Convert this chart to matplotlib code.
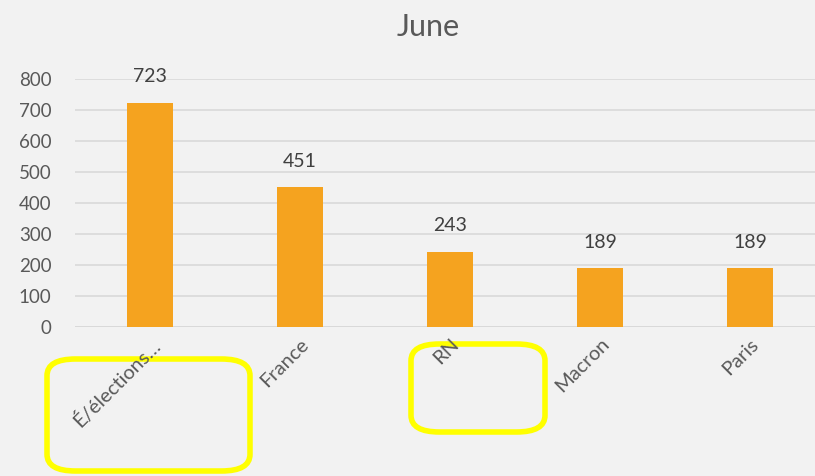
import matplotlib
matplotlib.use("Agg")
import matplotlib.pyplot as plt
from matplotlib.patches import FancyBboxPatch

categories = ["É/élections…", "France", "RN", "Macron", "Paris"]
values = [723, 451, 243, 189, 189]
yticks = [0, 100, 200, 300, 400, 500, 600, 700, 800]
title = "June"

plt.rcParams['font.family'] = ['Lato', 'DejaVu Sans']
W, H = 815, 476
fig = plt.figure(figsize=(W/100, H/100), dpi=100, facecolor='#f2f2f2')
ax = fig.add_axes([75/W, 1-327/H, 740/W, (327-79)/H])
ax.set_facecolor('#f2f2f2')

x = list(range(len(categories)))
ax.bar(x, values, width=0.31, color='#f5a31f', zorder=3)
for xi, v in zip(x, values):
    ax.text(xi, v + 84, str(v), ha='center', va='center', fontsize=14, color='#404040')

ax.set_xlim(-0.5, 4.433)
ax.set_ylim(0, 800)
ax.set_yticks(yticks)
ax.set_yticklabels([str(t) for t in yticks], fontsize=13.5, color='#595959')
ax.yaxis.grid(True, color='#d9d9d9', linewidth=1.2, zorder=0)
ax.tick_params(axis='y', length=0, pad=17)
ax.tick_params(axis='x', length=0, pad=6)
ax.set_xticks(x)
ax.set_xticklabels(categories, rotation=45, ha='right', rotation_mode='anchor',
                   fontsize=14.5, color='#595959')
for s in ax.spines.values():
    s.set_visible(False)
ax.axhline(0, color='#d9d9d9', linewidth=1.2, zorder=2)

fig.text(428/W, 1-27/H, title, ha='center', va='center', fontsize=22, color='#595959')

def box(x0, y0, x1, y1):
    p = FancyBboxPatch((x0/W, 1-y1/H), (x1-x0)/W, (y1-y0)/H,
                       boxstyle="round,pad=0,rounding_size=0.035",
                       transform=fig.transFigure, fill=False,
                       edgecolor='#ffff00', linewidth=4, zorder=-1)
    fig.patches.append(p)

box(47, 359, 250, 471)
box(411, 344, 545, 432)

fig.savefig('out.png', dpi=100, facecolor=fig.get_facecolor())
